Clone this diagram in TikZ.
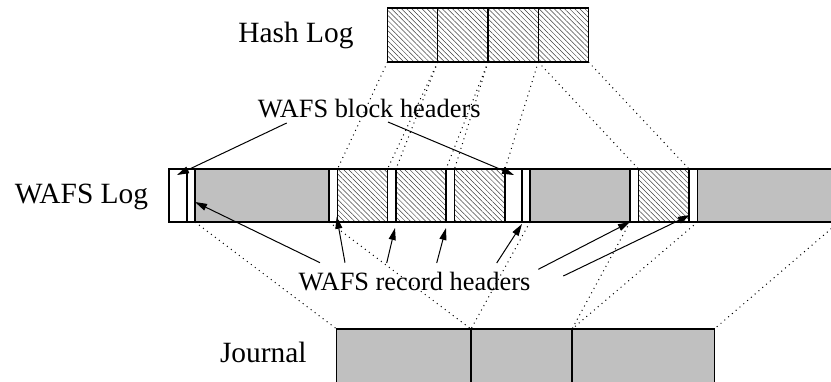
\documentclass[tikz,border=0pt]{standalone}
\usepackage{fontspec}
\setmainfont{Liberation Serif}
\usepackage{tikz}
\usetikzlibrary{calc}
\usetikzlibrary{patterns.meta}
\usetikzlibrary{arrows.meta}
\definecolor{wafsgray}{RGB}{192,192,192}
\tikzset{
  seg/.style={rectangle, draw=black, line width=0.6pt, inner sep=0pt, outer sep=0pt, minimum height=26.5pt, anchor=north west},
  grayseg/.style={seg, fill=wafsgray},
  hatchseg/.style={seg, pattern={Lines[angle=-45,distance=1.8pt,line width=0.25pt]}, pattern color=black!75},
  recseg/.style={seg, fill=white},
  blkseg/.style={seg, fill=white, line width=1pt},
  biglbl/.style={font=\fontsize{14.7}{17}\selectfont, anchor=base},
  smalllbl/.style={font=\fontsize{13.2}{16}\selectfont, anchor=base},
  mapline/.style={dotted, line width=0.5pt},
}

\begin{document}
\begin{tikzpicture}[x=0.5pt, y=-0.5pt]

\useasboundingbox (0,0) rectangle (831,381);

% hash log
\node[biglbl] (hashlbl) at (296,42) {Hash Log};
\node[hatchseg, minimum width=25.125pt, minimum height=27pt] (h1) at (387.5,8) {};
\node[hatchseg, minimum width=25.125pt, minimum height=27pt] (h2) at (437.75,8) {};
\node[hatchseg, minimum width=25.125pt, minimum height=27pt] (h3) at (488,8) {};
\node[hatchseg, minimum width=25.125pt, minimum height=27pt] (h4) at (538.25,8) {};

% wafs log
\node[biglbl] (wafslbl) at (81.5,203) {WAFS Log};
\node[recseg, minimum width=4pt] (rh1) at (187,169) {};
\node[grayseg, minimum width=67pt] (g1) at (195,169) {};
\node[recseg, minimum width=4.25pt] (rh2) at (329,169) {};
\node[hatchseg, minimum width=25pt] (d1) at (337.5,169) {};
\node[recseg, minimum width=4.25pt] (rh3) at (387.5,169) {};
\node[hatchseg, minimum width=25pt] (d2) at (396,169) {};
\node[recseg, minimum width=4.25pt] (rh4) at (446,169) {};
\node[hatchseg, minimum width=25.25pt] (d3) at (454.5,169) {};
\node[recseg, minimum width=4pt] (rh5) at (522,169) {};
\node[grayseg, minimum width=50pt] (g2) at (530,169) {};
\node[recseg, minimum width=4.25pt] (rh6) at (630,169) {};
\node[hatchseg, minimum width=25.25pt] (d4) at (638.5,169) {};
\node[recseg, minimum width=4.25pt] (rh7) at (689,169) {};
\node[grayseg, minimum width=70.75pt] (g3) at (697.5,169) {};
\node[blkseg, minimum width=9pt] (bh1) at (169,169) {};
\node[blkseg, minimum width=8.5pt] (bh2) at (505,169) {};

% journal
\node[biglbl] (jrnllbl) at (263.3,362.7) {Journal};
\node[grayseg, minimum width=67.15pt, minimum height=28pt] (j1) at (336.7,329) {};
\node[grayseg, minimum width=50.5pt, minimum height=28pt] (j2) at (471,329) {};
\node[grayseg, minimum width=71.15pt, minimum height=28pt] (j3) at (572,329) {};

% hash log -> wafs log
\draw[mapline] (h1.south west) -- (d1.north west);
\draw[mapline] (h2.south west) -- (d1.north east);
\draw[mapline] (h2.south west) -- (d2.north west);
\draw[mapline] (h3.south west) -- (d2.north east);
\draw[mapline] (h3.south west) -- (d3.north west);
\draw[mapline] (h4.south west) -- (d3.north east);
\draw[mapline] (h4.south west) -- (d4.north west);
\draw[mapline] (h4.south east) -- (d4.north east);

% wafs log -> journal
\draw[mapline] (g1.south west) -- (j1.north west);
\draw[mapline] (g1.south east) -- (j1.north east);
\draw[mapline] (g2.south west) -- (j2.north west);
\draw[mapline] (g2.south east) -- (j2.north east);
\draw[mapline] (g3.south west) -- (j3.north west);
\draw[mapline] (g3.south east) -- (j3.north east);

\node[smalllbl] (blklbl) at (369.2,117) {WAFS block headers};
\node[smalllbl] (reclbl) at (414.5,290) {WAFS record headers};

\begin{scope}[>={Triangle[length=6pt,width=3.5pt]}, line width=0.5pt]
	\draw [->] ($(blklbl.base)+(-82.5,6)$) -- ($(bh1.north)+(-1,6)$);
	\draw [->] ($(blklbl.base)+(18.8,5)$) -- ($(bh2.north)+(0.5,6)$);
	\draw [->] ($(reclbl.base)+(-94.5,-27.3)$) -- ($(rh1.east)+(0,6.5)$);
	\draw [->] ($(reclbl.base)+(-69.5,-27.3)$) -- ($(rh2.south east)+(-0.8,-5.3)$);
	\draw [->] ($(reclbl.base)+(-27.8,-27)$) -- ($(rh3.south east)+(-1,6)$);
	\draw [->] ($(reclbl.base)+(22.2,-27)$) -- ($(rh4.south west)+(0,6)$);
	\draw [->] ($(reclbl.base)+(82.2,-27)$) -- ($(rh5.south west)+(0,2)$);
	\draw [->] ($(reclbl.base)+(123.8,-20.7)$) -- (rh6.south west);
	\draw [->] ($(reclbl.base)+(148.8,-14)$) -- ($(rh7.south west)+(1,-7)$);
\end{scope}

\end{tikzpicture}
\end{document}
